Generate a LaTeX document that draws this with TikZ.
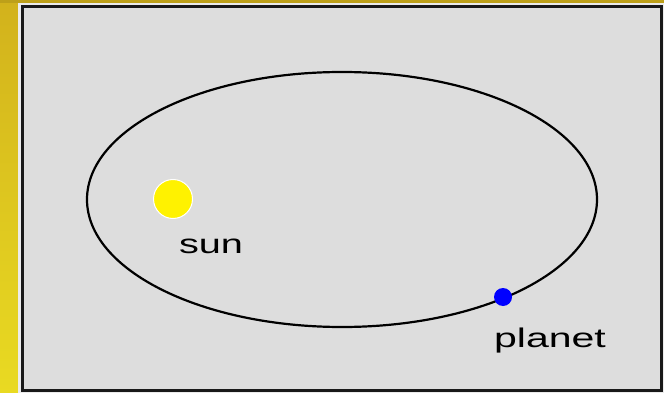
\documentclass[tikz,border=0pt]{standalone}
\usepackage{fontspec}
\setmainfont{Liberation Sans}
\usepackage{tikz}
\usetikzlibrary{positioning}
\definecolor{bandgold}{HTML}{D2B21C}
\definecolor{bandyellow}{HTML}{E9DA22}
\definecolor{panelgray}{HTML}{DDDDDD}

\begin{document}
\begin{tikzpicture}[x=1pt, y=-1pt,
    panel/.style={draw=black!90, line width=3pt, fill=panelgray},
    orbit/.style={draw=black, line width=2.2pt},
    body/.style={circle, inner sep=0pt},
    lbl/.style={anchor=base, inner sep=0pt, font=\fontsize{27}{32}\selectfont}
  ]
    \useasboundingbox (0,0) rectangle (664,393);
    % frame behind the panel
    \shade[top color=bandgold, bottom color=bandyellow] (0,0) rectangle (18,393);
    \fill[bandgold!90!black] (0,0) rectangle (664,3);
    \fill[white!92!black] (18,3) rectangle (664,393);
    \draw[panel] (22.5,6.5) rectangle (661.5,390);
    % orbit
    \draw[orbit] (342,199.5) ellipse [x radius=255, y radius=127.5];
    \node[body, fill=yellow, draw=white, line width=1pt, minimum size=39pt] (sun) at (173,199) {};
    \node[body, fill=blue, minimum size=18pt] (planet) at (503,297) {};
    \node[lbl] (sunlabel) at (211,253) {\scalebox{1.47}[1]{sun}};
    \node[lbl] (planetlabel) at (550,347) {\scalebox{1.52}[1]{planet}};
  \end{tikzpicture}
\end{document}
